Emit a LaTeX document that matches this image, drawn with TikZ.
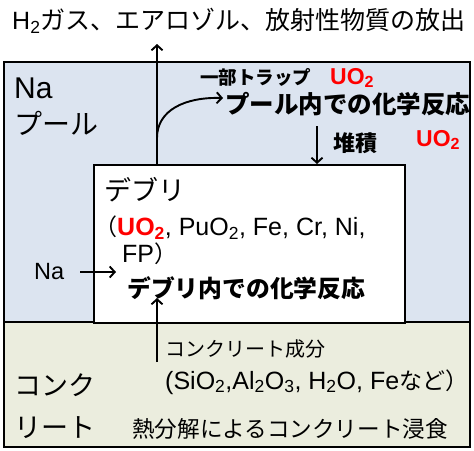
\documentclass[tikz,border=0pt]{standalone}
\usepackage{fontspec}
\setmainfont{Liberation Sans}
\newfontfamily\jp{Noto Sans CJK JP}
\usetikzlibrary{arrows.meta}
\definecolor{poolblue}{RGB}{220,228,240}
\definecolor{concretecol}{RGB}{235,237,222}
\definecolor{uored}{RGB}{255,0,0}
\newcommand{\fs}[1]{\fontsize{#1}{#1}\selectfont}
\begin{document}
\begin{tikzpicture}[x=1pt,y=-1pt,
  region/.style={draw=black, line width=1.6pt},
  arr/.style={line width=1.9pt, -{Straight Barb[length=5pt,width=11pt]}},
  lbl/.style={inner sep=0pt, anchor=west},
]
\useasboundingbox (0,0) rectangle (474,450);
% regions
\draw[region, fill=poolblue] (4,62) rectangle (470,322);
\draw[region, fill=concretecol] (4,322) rectangle (470,447);
\node[region, fill=white, minimum width=311pt, minimum height=158pt, anchor=north west, inner sep=0pt] (debris) at (93,164) {};
% coordinates
\coordinate (relTop) at (157,44);
\coordinate (curveStart) at (157,138);
\coordinate (trapEnd) at (223,98);
\coordinate (depTop) at (317,126);
\coordinate (naStart) at (80,272);
\coordinate (naEnd) at (116,272);
\coordinate (concStart) at (157,362);
\coordinate (concEnd) at (157,298);
% arrows
\draw[arr] (debris.north -| relTop) -- (relTop);
\draw[arr] (curveStart) .. controls (157,110) and (185,97) .. (trapEnd);
\draw[arr] (depTop) -- (depTop |- debris.north);
\draw[arr] (naStart) -- (naEnd);
\draw[arr] (concStart) -- (concEnd);
% texts
\node[lbl] (release) at (12,21) {\fs{25}H\textsubscript{2}\jp ガス、エアロゾル、放射性物質の放出};
\node[lbl] (trap) at (200,77) {\jp\bfseries\fs{18.5}一部トラップ};
\node[lbl, text=uored] (uoA) at (330,78) {\bfseries\fs{23}UO\textsubscript{2}};
\node[lbl] (poolrx) at (225,104) {\jp\bfseries\fs{24.5}プール内での化学反応};
\node[lbl, text=uored] (uoB) at (416,140) {\bfseries\fs{23}UO\textsubscript{2}};
\node[lbl] (deposit) at (333,143) {\jp\bfseries\fs{22}堆積};
\node[lbl] (naTitle) at (14,88) {\fs{30}Na};
\node[lbl] (poolTitle) at (14,123) {\jp\fs{28}プール};
\node[lbl] (debrisTitle) at (104,190) {\jp\fs{27}デブリ};
\node[lbl] (comp) at (94,228) {\fs{25}{\jp\fs{23}（}{\color{uored}\bfseries UO\textsubscript{2}}, PuO\textsubscript{2}, Fe, Cr, Ni,};
\node[lbl] (fp) at (122,254) {\fs{25}FP{\jp\fs{23}）}};
\node[lbl] (naIn) at (34,272) {\fs{23.5}Na};
\node[lbl] (debrisRx) at (127,288) {\jp\bfseries\fs{23.8}デブリ内での化学反応};
\node[lbl] (concComp) at (165,349) {\jp\fs{20}コンクリート成分};
\node[lbl] (concList) at (165,382) {\fs{25}(SiO\textsubscript{2},Al\textsubscript{2}O\textsubscript{3}, H\textsubscript{2}O, Fe{\jp\fs{23}など）}};
\node[lbl] (concTitleA) at (14,385) {\jp\fs{27}コンク};
\node[lbl] (concTitleB) at (14,428) {\jp\fs{27}リート};
\node[lbl] (erosion) at (132,429) {\jp\fs{22.6}熱分解によるコンクリート浸食};
\end{tikzpicture}
\end{document}
